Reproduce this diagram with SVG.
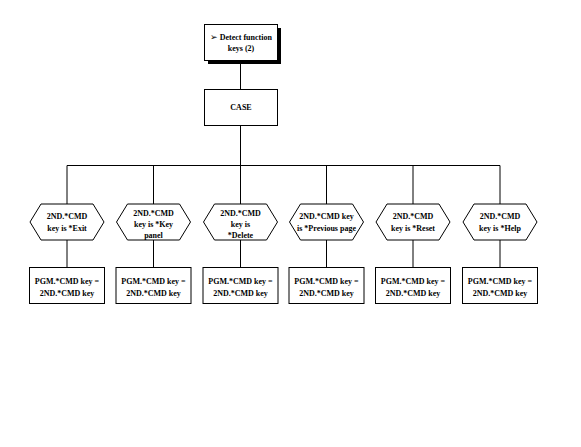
<svg xmlns="http://www.w3.org/2000/svg" width="581" height="447" viewBox="0 0 581 447">
<defs>
<style>
.b{fill:#fff;stroke:#000;stroke-width:1}
.s{fill:#000}
.t{font-family:"Liberation Serif","Times New Roman",serif;font-size:8px;font-weight:bold;fill:#000;text-anchor:middle}
.c{fill:none;stroke:#000;stroke-width:1}
</style>
<polygon id="hex" points="-37,0 -26,-18 26,-18 37,0 26,18 -26,18" class="b"/>
</defs>
<rect width="581" height="447" fill="#fff"/>
<g id="connectors">
<path class="c" d="M240.5,60 V89 M240.5,125 V165.5 M67,165.5 H500 M67,165.5 V204 M153.5,165.5 V204 M240.5,165.5 V204 M326.5,165.5 V204 M413,165.5 V204 M500,165.5 V204 M67,240 V267 M153.5,240 V267 M240.5,240 V267 M326.5,240 V267 M413,240 V267 M500,240 V267"/>
</g>
<g id="detect">
<rect class="s" x="208" y="28" width="73" height="36"/>
<rect class="b" x="204.5" y="24.5" width="73" height="36"/>
<text class="t" x="241" y="40"><tspan font-family="DejaVu Sans" font-size="9">➢</tspan> Detect function</text>
<text class="t" x="241" y="51">keys (2)</text>
</g>
<g id="case">
<rect class="b" x="204.5" y="89.5" width="73" height="36"/>
<text class="t" x="241" y="110">CASE</text>
</g>
<g id="hex1">
<use href="#hex" x="67" y="222"/>
<text class="t" x="67" y="219">2ND.*CMD</text>
<text class="t" x="67" y="231">key is *Exit</text>
</g>
<g id="hex2">
<use href="#hex" x="153.5" y="222"/>
<text class="t" x="153.5" y="216">2ND.*CMD</text>
<text class="t" x="153.5" y="227">key is *Key</text>
<text class="t" x="153.5" y="238">panel</text>
</g>
<g id="hex3">
<use href="#hex" x="240.5" y="222"/>
<text class="t" x="240.5" y="216">2ND.*CMD</text>
<text class="t" x="240.5" y="227">key is</text>
<text class="t" x="240.5" y="238">*Delete</text>
</g>
<g id="hex4">
<use href="#hex" x="326.5" y="222"/>
<text class="t" x="326.5" y="219">2ND.*CMD key</text>
<text class="t" x="326.5" y="231">is *Previous page</text>
</g>
<g id="hex5">
<use href="#hex" x="413" y="222"/>
<text class="t" x="413" y="219">2ND.*CMD</text>
<text class="t" x="413" y="231">key is *Reset</text>
</g>
<g id="hex6">
<use href="#hex" x="500" y="222"/>
<text class="t" x="500" y="219">2ND.*CMD</text>
<text class="t" x="500" y="231">key is *Help</text>
</g>
<g id="box1"><rect class="b" x="29.5" y="267.5" width="75" height="36"/><text class="t" x="67" y="284">PGM.*CMD key =</text><text class="t" x="67" y="296">2ND.*CMD key</text></g>
<g id="box2"><rect class="b" x="116" y="267.5" width="75" height="36"/><text class="t" x="153.5" y="284">PGM.*CMD key =</text><text class="t" x="153.5" y="296">2ND.*CMD key</text></g>
<g id="box3"><rect class="b" x="203" y="267.5" width="75" height="36"/><text class="t" x="240.5" y="284">PGM.*CMD key =</text><text class="t" x="240.5" y="296">2ND.*CMD key</text></g>
<g id="box4"><rect class="b" x="289" y="267.5" width="75" height="36"/><text class="t" x="326.5" y="284">PGM.*CMD key =</text><text class="t" x="326.5" y="296">2ND.*CMD key</text></g>
<g id="box5"><rect class="b" x="375.5" y="267.5" width="75" height="36"/><text class="t" x="413" y="284">PGM.*CMD key =</text><text class="t" x="413" y="296">2ND.*CMD key</text></g>
<g id="box6"><rect class="b" x="462.5" y="267.5" width="75" height="36"/><text class="t" x="500" y="284">PGM.*CMD key =</text><text class="t" x="500" y="296">2ND.*CMD key</text></g>
</svg>
